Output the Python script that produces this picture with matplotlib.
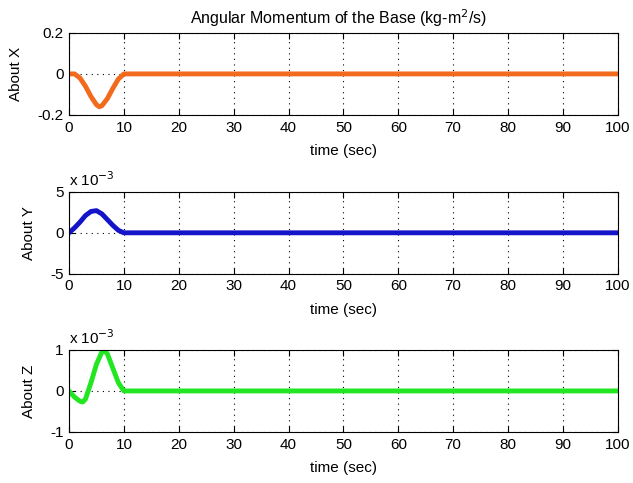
import matplotlib
matplotlib.use("Agg")
import matplotlib.pyplot as plt

plt.rcParams['font.family'] = ['Liberation Sans', 'DejaVu Sans']

# Data
tx = [0, 1, 2, 3, 4, 5, 5.5, 6, 7, 8, 9, 10, 100]
about_x = [0, 0, -0.02, -0.06, -0.11, -0.15, -0.16, -0.155, -0.12, -0.07, -0.025, 0, 0]

ty = [0, 1, 2, 3, 4, 5, 6, 7, 8, 9, 10, 100]
about_y = [0, 0.6, 1.3, 2.1, 2.6, 2.7, 2.3, 1.6, 0.9, 0.3, 0, 0]  # x 1e-3

tz = [0, 1, 2, 2.5, 3, 4, 5, 6, 6.5, 7, 8, 9, 10, 10.5, 100]
about_z = [0, -0.15, -0.25, -0.27, -0.2, 0.2, 0.65, 0.95, 0.98, 0.9, 0.55, 0.2, 0.0, 0, 0]  # x 1e-3

xticks = [0, 10, 20, 30, 40, 50, 60, 70, 80, 90, 100]
title = "Angular Momentum of the Base (kg-m$^2$/s)"

fig = plt.figure(figsize=(6.33, 4.83), dpi=100)
left, width, height = 0.109, 0.867, 0.170
bottoms = [0.762, 0.433, 0.1056]

specs = [
    (tx, about_x, '#F26B1D', 'About X', [-0.2, 0, 0.2], ['-0.2', '0', '0.2'], (-0.2, 0.2), False),
    (ty, about_y, '#1414C8', 'About Y', [-5, 0, 5], ['-5', '0', '5'], (-5, 5), True),
    (tz, about_z, '#22E622', 'About Z', [-1, 0, 1], ['-1', '0', '1'], (-1, 1), True),
]

for b, (t, v, c, lab, yt, ytl, yl, sci) in zip(bottoms, specs):
    ax = fig.add_axes([left, b, width, height])
    ax.plot(t, v, color=c, lw=3.5, solid_capstyle='round')
    ax.set_xlim(0, 100)
    ax.set_ylim(*yl)
    ax.set_xticks(xticks)
    ax.set_yticks(yt)
    ax.set_yticklabels(ytl)
    ax.tick_params(direction='in', top=True, right=True, labelsize=11, length=4, pad=4)
    ax.grid(True, linestyle=(0, (1, 4)), color='black', lw=0.8)
    ax.set_xlabel('time (sec)', fontsize=11, labelpad=7)
    ax.set_ylabel(lab, fontsize=11, labelpad=10)
    for s in ax.spines.values():
        s.set_linewidth(0.8)
    if sci:
        ax.text(0.0, 1.03, 'x 10$^{-3}$', transform=ax.transAxes, fontsize=11,
                ha='left', va='bottom')

fig.text(0.534, 0.963, title, ha='center', va='center', fontsize=11.5)

fig.savefig('out.png', dpi=100)
